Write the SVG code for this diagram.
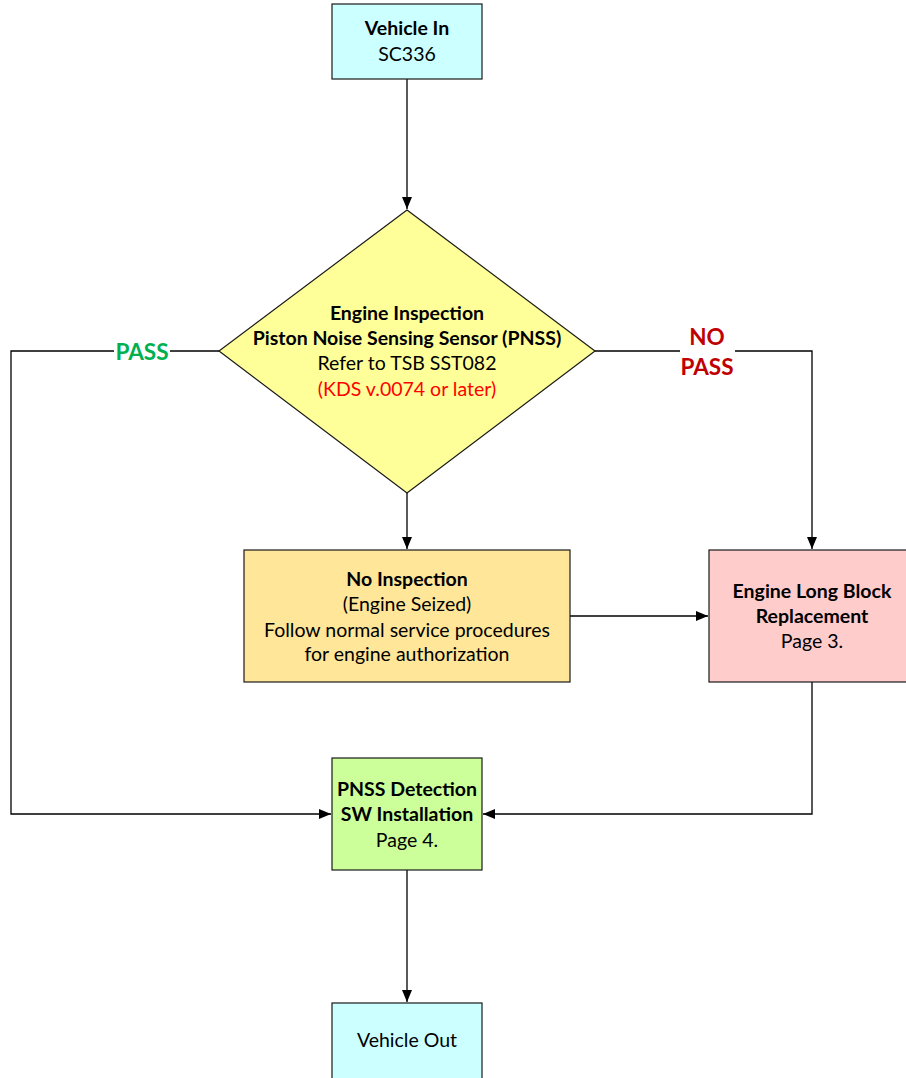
<svg xmlns="http://www.w3.org/2000/svg" width="906" height="1078" viewBox="0 0 906 1078">
<style>
.box{stroke:#1a1a1a;stroke-width:1.2}
.t{font-family:Lato,"Liberation Sans",Arial,sans-serif;font-size:19.5px;text-anchor:middle}
.b{font-weight:bold}
.conn{fill:none;stroke:#000;stroke-width:1.3}
.lbl{font-family:Lato,"Liberation Sans",Arial,sans-serif;font-size:22.5px;font-weight:bold;text-anchor:middle}
</style>
<defs>
<marker id="ah" viewBox="0 0 12 10" refX="12" refY="5" markerWidth="12" markerHeight="10" markerUnits="userSpaceOnUse" orient="auto">
<path d="M0,0 L12,5 L0,10 z" fill="#000"/>
</marker>
</defs>
<rect width="906" height="1078" fill="#fff"/>
<g id="connectors">
<path class="conn" d="M407,79 V209" marker-end="url(#ah)"/>
<path class="conn" d="M219,351 H11 V814 H331" marker-end="url(#ah)"/>
<path class="conn" d="M595,351 H812 V549" marker-end="url(#ah)"/>
<path class="conn" d="M407,493 V549" marker-end="url(#ah)"/>
<path class="conn" d="M570,616 H708" marker-end="url(#ah)"/>
<path class="conn" d="M812,682 V814 H483" marker-end="url(#ah)"/>
<path class="conn" d="M407,870 V1002" marker-end="url(#ah)"/>
<rect x="114" y="339" width="56" height="24" fill="#fff"/>
<text class="lbl" x="142" y="360" fill="#00B050">PASS</text>
<rect x="680" y="323" width="55" height="58" fill="#fff"/>
<text class="lbl" x="707" y="345" fill="#C00000">NO</text>
<text class="lbl" x="707" y="375" fill="#C00000">PASS</text>
</g>
<g id="vehicle-in">
<rect class="box" x="332" y="4" width="150" height="75" fill="#CCFFFF"/>
<text class="t b" x="407" y="35">Vehicle In</text>
<text class="t" x="407" y="61">SC336</text>
</g>
<g id="engine-inspection">
<polygon class="box" points="407,210 595,351 407,493 219,351" fill="#FFFF99"/>
<text class="t b" x="407" y="320">Engine Inspection</text>
<text class="t b" x="407" y="345">Piston Noise Sensing Sensor (PNSS)</text>
<text class="t" x="407" y="370">Refer to TSB SST082</text>
<text class="t" x="407" y="396" style="fill:#FF0000">(KDS v.0074 or later)</text>
</g>
<g id="no-inspection">
<rect class="box" x="244" y="550" width="326" height="132" fill="#FFE699"/>
<text class="t b" x="407" y="586">No Inspection</text>
<text class="t" x="407" y="611">(Engine Seized)</text>
<text class="t" x="407" y="637">Follow normal service procedures</text>
<text class="t" x="407" y="661">for engine authorization</text>
</g>
<g id="engine-long-block">
<rect class="box" x="709" y="550" width="206" height="132" fill="#FFCCCC"/>
<text class="t b" x="812" y="598">Engine Long Block</text>
<text class="t b" x="812" y="623">Replacement</text>
<text class="t" x="812" y="648">Page 3.</text>
</g>
<g id="pnss-install">
<rect class="box" x="332" y="758" width="150" height="112" fill="#CCFF99"/>
<text class="t b" x="407" y="796">PNSS Detection</text>
<text class="t b" x="407" y="821">SW Installation</text>
<text class="t" x="407" y="847">Page 4.</text>
</g>
<g id="vehicle-out">
<rect class="box" x="332" y="1003" width="150" height="85" fill="#CCFFFF"/>
<text class="t" x="407" y="1047">Vehicle Out</text>
</g>
</svg>
